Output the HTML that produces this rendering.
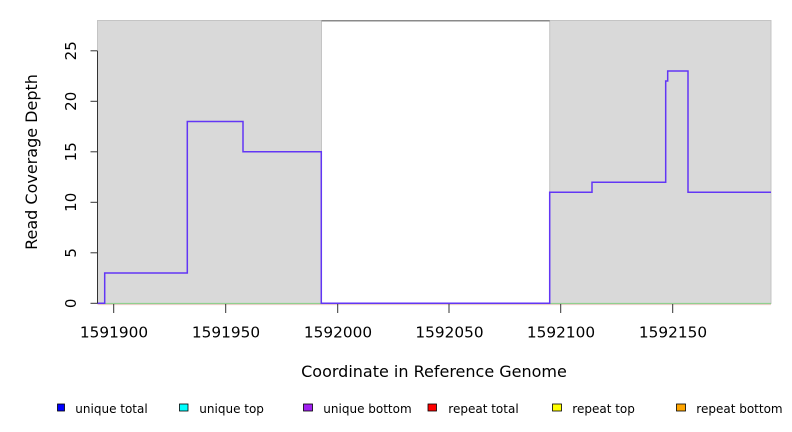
<!DOCTYPE html>
<html>
<head>
<meta charset="utf-8">
<style>
  html, body { margin: 0; padding: 0; background: #ffffff; }
  svg { display: block; }
  text { font-family: "DejaVu Sans", "Liberation Sans", sans-serif; fill: #000; }
</style>
</head>
<body>
<svg width="792" height="432" viewBox="0 0 792 432" xmlns="http://www.w3.org/2000/svg">
  <!-- shaded regions -->
  <rect x="97.5" y="20.5" width="224" height="283" fill="#d9d9d9" stroke="#c4c4c4" stroke-width="1"/>
  <rect x="549.7" y="20.5" width="221.3" height="283" fill="#d9d9d9" stroke="#c4c4c4" stroke-width="1"/>
  <!-- top line over white region -->
  <line x1="321.5" y1="20.8" x2="549.7" y2="20.8" stroke="#8a8a8a" stroke-width="1.5"/>

  <!-- baseline lines (repeat series at 0) -->
  <line x1="97.5" y1="304.6" x2="771" y2="304.6" stroke="#f2c8c8" stroke-width="1"/>
  <line x1="97.5" y1="303.5" x2="771" y2="303.5" stroke="#8fd08f" stroke-width="1.2"/>

  <!-- coverage step line -->
  <path d="M97.5,303.3 H104.7 V273 H187.3 V121.5 H243 V151.7 H321.3 V303.3 H549.7 V192.2 H592 V182.2 H665.7 V81 H667.7 V71 H688 V192.2 H771"
        fill="none" stroke="#6236f5" stroke-width="1.5"/>

  <!-- y axis -->
  <line x1="97.5" y1="51" x2="97.5" y2="303.3" stroke="#333" stroke-width="1"/>
  <g stroke="#333" stroke-width="1">
    <line x1="90.5" y1="303.3" x2="97.5" y2="303.3"/>
    <line x1="90.5" y1="252.8" x2="97.5" y2="252.8"/>
    <line x1="90.5" y1="202.3" x2="97.5" y2="202.3"/>
    <line x1="90.5" y1="151.8" x2="97.5" y2="151.8"/>
    <line x1="90.5" y1="101.3" x2="97.5" y2="101.3"/>
    <line x1="90.5" y1="50.8" x2="97.5" y2="50.8"/>
  </g>
  <g font-size="15" text-anchor="middle">
    <text transform="translate(76,303.3) rotate(-90)">0</text>
    <text transform="translate(76,252.8) rotate(-90)">5</text>
    <text transform="translate(76,202.3) rotate(-90)">10</text>
    <text transform="translate(76,151.8) rotate(-90)">15</text>
    <text transform="translate(76,101.3) rotate(-90)">20</text>
    <text transform="translate(76,50.8) rotate(-90)">25</text>
  </g>

  <!-- x axis ticks -->
  <g stroke="#333" stroke-width="1">
    <line x1="113.7" y1="304" x2="113.7" y2="313"/>
    <line x1="225.7" y1="304" x2="225.7" y2="313"/>
    <line x1="337.7" y1="304" x2="337.7" y2="313"/>
    <line x1="449" y1="304" x2="449" y2="313"/>
    <line x1="560.7" y1="304" x2="560.7" y2="313"/>
    <line x1="672.7" y1="304" x2="672.7" y2="313"/>
  </g>
  <g font-size="15.3" text-anchor="middle">
    <text x="114" y="337.5">1591900</text>
    <text x="226" y="337.5">1591950</text>
    <text x="338" y="337.5">1592000</text>
    <text x="449.5" y="337.5">1592050</text>
    <text x="561" y="337.5">1592100</text>
    <text x="673" y="337.5">1592150</text>
  </g>

  <!-- axis titles -->
  <text x="434" y="377" font-size="16" text-anchor="middle">Coordinate in Reference Genome</text>
  <text transform="translate(37,162) rotate(-90)" font-size="16" text-anchor="middle">Read Coverage Depth</text>

  <!-- legend -->
  <g stroke="#000" stroke-width="0.8">
    <rect x="57.5" y="404" width="7" height="7" fill="#0000ff"/>
    <rect x="179.5" y="404" width="8.5" height="7" fill="#00ffff"/>
    <rect x="303.5" y="404" width="9" height="7" fill="#a020f0"/>
    <rect x="428" y="404" width="8.5" height="7" fill="#ff0000"/>
    <rect x="552.5" y="404" width="9" height="7" fill="#ffff00"/>
    <rect x="676.5" y="404" width="9" height="7" fill="#ffa500"/>
  </g>
  <g font-size="12">
    <text x="75.3" y="413">unique total</text>
    <text x="199.3" y="413">unique top</text>
    <text x="323.3" y="413">unique bottom</text>
    <text x="448.3" y="413">repeat total</text>
    <text x="572.3" y="413">repeat top</text>
    <text x="696.3" y="413">repeat bottom</text>
  </g>
</svg>
</body>
</html>
